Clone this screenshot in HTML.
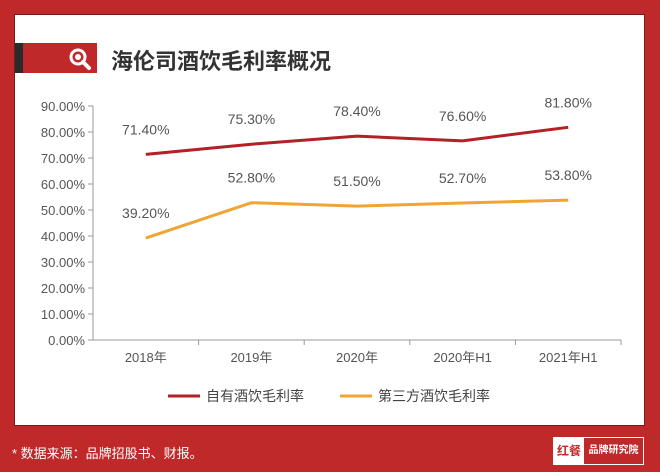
<!DOCTYPE html>
<html><head><meta charset="utf-8"><style>
body{margin:0;width:660px;height:472px;background:#c0292a;overflow:hidden;font-family:"Liberation Sans","Noto Sans CJK SC",sans-serif;position:relative}
#panel{position:absolute;left:14px;top:14px;width:631px;height:412px;background:#fff;border:1px solid #7a1a1a;box-sizing:border-box}
</style></head><body>
<div id="panel"></div>
<div style="position:absolute;left:15px;top:43px;width:82px;height:30px;background:#c0292a"><div style="position:absolute;left:0;top:0;width:8px;height:30px;background:#2b2b2b"></div>
<svg style="position:absolute;left:52px;top:3px" width="26" height="24"><circle cx="11" cy="11" r="7" fill="none" stroke="#fff" stroke-width="3"/><circle cx="11" cy="11" r="3" fill="#fff"/><line x1="16" y1="16" x2="22" y2="22" stroke="#fff" stroke-width="4" stroke-linecap="round"/></svg></div>
<div style="position:absolute;left:111px;top:44px;font-size:22px;font-weight:bold;color:#333">海伦司酒饮毛利率概况</div>
<svg id="c" width="660" height="472" style="position:absolute;left:0;top:0"></svg>
<div style="position:absolute;left:12px;top:443px;font-size:13px;color:#fff">* 数据来源：品牌招股书、财报。</div>
<div style="position:absolute;left:553px;top:437px;width:91px;height:28px;border:1px solid #fff;box-sizing:border-box;display:flex">
<div style="width:30px;background:#fff;color:#c0292a;font-size:12px;font-weight:bold;line-height:26px;text-align:center">红餐</div>
<div style="flex:1;color:#fff;font-size:10px;font-weight:bold;line-height:26px;text-align:center">品牌研究院</div></div>
<script>
const categories=["2018年","2019年","2020年","2020年H1","2021年H1"];
const ownValues=[71.4,75.3,78.4,76.6,81.8];
const thirdValues=[39.2,52.8,51.5,52.7,53.8];
const yTicks=[0,10,20,30,40,50,60,70,80,90];
const ns="http://www.w3.org/2000/svg",svg=document.getElementById('c');
const x0=93,x1=621,yTop=106,yBot=340;
const bw=(x1-x0)/categories.length;
const X=i=>x0+bw*(i+0.5), Y=v=>yBot-(v/90)*(yBot-yTop);
function mk(t,a,txt){const e=document.createElementNS(ns,t);for(const k in a)e.setAttribute(k,a[k]);if(txt!=null)e.textContent=txt;svg.appendChild(e);return e;}
yTicks.forEach(v=>{const y=Y(v);
const t=mk('line',{x1:x0-5,x2:x0,y1:y,y2:y,stroke:'#999'});


const l=mk('text',{x:x0-8,y:y+5,'text-anchor':'end','font-size':13,fill:'#555'},v.toFixed(2)+'%');

});
const ax=mk('line',{x1:x0,x2:x0,y1:yTop,y2:yBot,stroke:'#999'});


const xa=mk('line',{x1:x0,x2:x1,y1:yBot,y2:yBot,stroke:'#999'});


categories.forEach((c,i)=>{
const t=mk('line',{x1:x0+bw*(i+1),x2:x0+bw*(i+1),y1:yBot,y2:yBot+5,stroke:'#999'});


const l=mk('text',{x:X(i),y:yBot+22,'text-anchor':'middle','font-size':13,fill:'#555'},c);

});
function series(vals,color,name){
const p=mk('polyline',{points:vals.map((v,i)=>X(i)+','+Y(v)).join(' '),fill:'none',stroke:color,'stroke-width':3});


vals.forEach((v,i)=>{const l=mk('text',{x:X(i),y:Y(v)-20,'text-anchor':'middle','font-size':14,fill:'#555'},v.toFixed(2)+'%');

});}
series(ownValues,'#b32025','own-wine');
series(thirdValues,'#f0a431','third-party-wine');
const legend=[["自有酒饮毛利率",'#b32025',168],["第三方酒饮毛利率",'#f0a431',340]];
legend.forEach(([n,c,x])=>{
const l=mk('line',{x1:x,x2:x+32,y1:396,y2:396,stroke:c,'stroke-width':3});


const t=mk('text',{x:x+38,y:401,'font-size':14,fill:'#444'},n);

});
</script>
</body></html>
